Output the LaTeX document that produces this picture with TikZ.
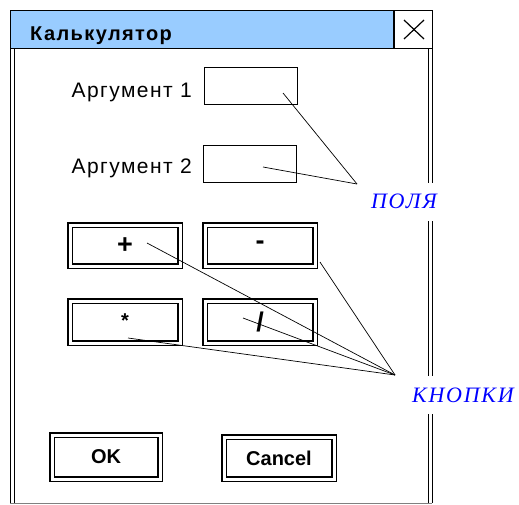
\documentclass[tikz,border=0pt]{standalone}
\usepackage{fontspec}
\setmainfont{Liberation Sans}
\newfontfamily\notefont{Liberation Serif}
\definecolor{titlebar}{RGB}{153,204,255}
\definecolor{noteblue}{RGB}{0,0,255}
\tikzset{
  field/.style={draw, line width=0.9pt, minimum width=93pt, minimum height=37pt, inner sep=0pt},
  btn/.style={draw, double, double distance=3pt, line width=1.1pt, inner sep=0pt, font=\bfseries\fontsize{20}{20}\selectfont},
  bigsign/.style={font=\bfseries\fontsize{27}{27}\selectfont},
  argtext/.style={anchor=base east, inner sep=0pt, font=\fontsize{21}{21}\selectfont\addfontfeatures{LetterSpace=7}},
  note/.style={fill=white, text=noteblue, inner sep=0pt, minimum height=38pt, font=\notefont\itshape\fontsize{22}{22}\selectfont\addfontfeatures{LetterSpace=8}},
  leader/.style={line width=0.7pt}
}
\begin{document}
\begin{tikzpicture}[x=1pt,y=-1pt]
\useasboundingbox (0,0) rectangle (519,504);
\fill[titlebar] (10,10) rectangle (395,48);
\draw[line width=1pt] (10,10) rectangle (432,48);
\draw[line width=1.6pt] (394,10) -- (394,48);
\draw[line width=1.2pt] (404,20) -- (424,39);
\draw[line width=1.2pt] (404,39) -- (424,20);
\draw[line width=0.9pt] (10,48) -- (10,503);
\draw[line width=0.9pt] (14,48) -- (14,503);
\draw[line width=0.9pt] (428,48) -- (428,503);
\draw[line width=0.9pt] (432,48) -- (432,503);
\draw[gray, line width=0.9pt] (10,503) -- (432,503);
\node[anchor=base west, inner sep=0pt, font=\bfseries\fontsize{20}{20}\selectfont\addfontfeatures{LetterSpace=7}] (title) at (30,40) {Калькулятор};

\node[argtext] (arg1) at (192,97) {Аргумент 1};
\node[field] (fld1) at (250.5,86) {};
\node[argtext] (arg2) at (192,173) {Аргумент 2};
\node[field] (fld2) at (250,163.5) {};

\node[btn, bigsign, minimum width=110pt, minimum height=41pt] (bplus) at (125,245.5) {+};
\node[btn, bigsign, minimum width=110pt, minimum height=41pt] (bminus) at (260,245.5) {-};
\node[btn, minimum width=110pt, minimum height=42pt] (bmul) at (125,322) {\raisebox{2pt}{*}};
\node[btn, bigsign, minimum width=110pt, minimum height=42pt] (bdiv) at (260,322) {/};
\node[btn, minimum width=108pt, minimum height=44pt] (bok) at (106,457) {OK};
\node[btn, minimum width=110pt, minimum height=42pt] (bcancel) at (279,458) {Cancel};

\node[note] (polya) at (404,201.5) {ПОЛЯ};
\node[note] (knopki) at (463,395) {КНОПКИ};

\coordinate (tipf) at (357,184);
\coordinate (tipb) at (395,375);
\coordinate (p1) at (283,93);
\coordinate (p2) at (263,167);
\coordinate (pplus) at (147,243);
\coordinate (pminus) at (320,262);
\coordinate (pdiv) at (243,318);
\coordinate (pmul) at (128,338);
\draw[leader] (p1) -- (tipf);
\draw[leader] (p2) -- (tipf);
\draw[leader] (pplus) -- (tipb);
\draw[leader] (pminus) -- (tipb);
\draw[leader] (pdiv) -- (tipb);
\draw[leader] (pmul) -- (tipb);
\end{tikzpicture}
\end{document}
